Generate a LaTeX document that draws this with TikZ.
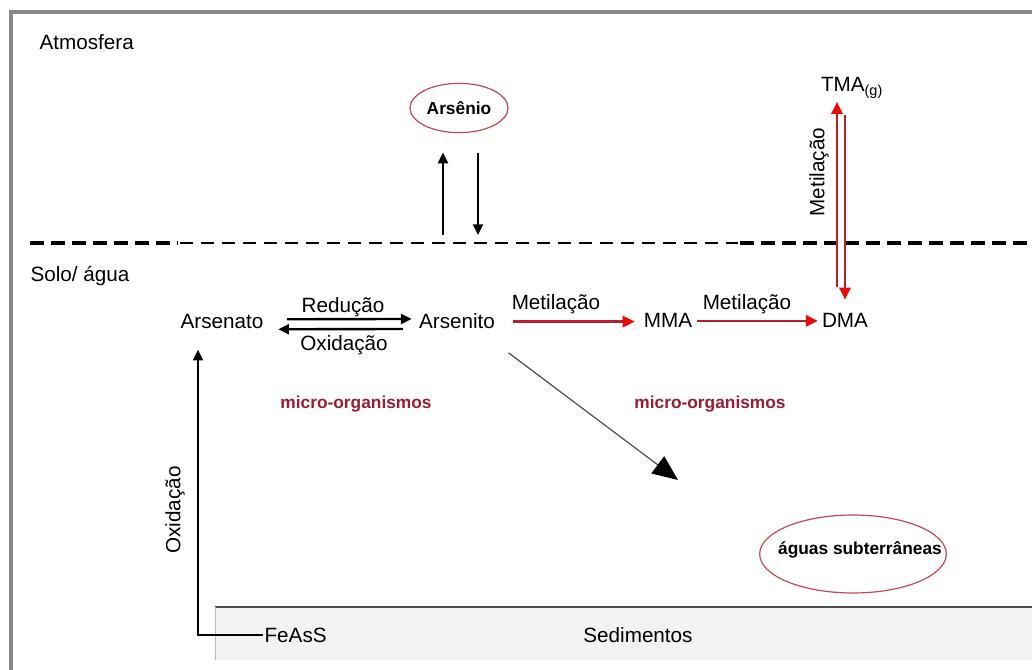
\documentclass[tikz,border=0pt]{standalone}
\usepackage{fontspec}
\setmainfont{Liberation Sans}
\usetikzlibrary{arrows.meta,shapes.geometric,calc}
\definecolor{ringred}{RGB}{190,75,85}
\definecolor{microred}{RGB}{150,30,50}
\definecolor{metline}{RGB}{185,30,45}
\definecolor{methead}{RGB}{235,10,10}
\definecolor{framegray}{RGB}{135,135,135}
\definecolor{sedfill}{RGB}{242,242,242}

\begin{document}
\begin{tikzpicture}[x=0.75pt,y=-0.75pt,
    txt/.style={font=\fontsize{15.5}{18}\selectfont, inner sep=1pt},
    boldtxt/.style={font=\bfseries\fontsize{13}{15}\selectfont, inner sep=1pt},
    microtxt/.style={boldtxt, text=microred},
    ring/.style={draw=ringred, line width=0.9pt, ellipse},
    blackarr/.style={line width=1.4pt, -{Triangle[length=8pt,width=7.5pt]}},
    redarr/.style={draw=metline, line width=1.8pt, -{Triangle[length=9pt,width=8.5pt,color=methead,fill=methead]}}]
        \useasboundingbox (0,0) rectangle (1032,670);
        \draw[framegray, line width=3.5pt] (11,690) -- (11,12) -- (1050,12);
        \fill[sedfill] (215,607) rectangle (1050,660);
        \draw[gray!60!black, line width=0.9pt] (1050,607) -- (215,607);
        \draw[gray!55, line width=0.6pt] (215,607) -- (215,660);
        % boundary atmosphere / soil
        \draw[line width=2.6pt, dash pattern=on 10.5pt off 5.25pt] (30,243) -- (178,243);
        \draw[line width=1pt, dash pattern=on 9.75pt off 6pt] (180,243) -- (738,243);
        \draw[line width=2.6pt, dash pattern=on 10.5pt off 5.25pt] (740,243) -- (1032,243);
        \node[txt, anchor=base west] (atm) at (38,50) {Atmosfera};
        \node[txt, anchor=base west] (solo) at (29,282) {Solo/ água};
        \node[txt, anchor=base] (sed) at (638,642) {Sedimentos};
        % species
        \node[ring, boldtxt, minimum width=73.5pt, minimum height=37pt] (arsenio) at (459,108) {Arsênio};
        \node[txt, anchor=base] (tma) at (852,92) {TMA\textsubscript{(g)}};
        \node[txt, anchor=base] (arsenato) at (222,329) {Arsenato};
        \node[txt, anchor=base] (arsenito) at (457,329) {Arsenito};
        \node[txt, anchor=base] (mma) at (668,328) {MMA};
        \node[txt, anchor=base] (dma) at (845,328) {DMA};
        \node[txt, anchor=base west] (feass) at (263,642) {FeAsS};
        \node[ring, minimum width=140pt, minimum height=58.5pt] (aguasring) at (853,554) {};
        \node[boldtxt] (aguas) at (860,550) {águas subterrâneas};
        % process labels
        \node[txt, anchor=base] (red) at (343,313) {Redução};
        \node[txt, anchor=base] (oxi) at (344,351) {Oxidação};
        \node[txt, anchor=base] (met1) at (556,310) {Metilação};
        \node[txt, anchor=base] (met2) at (747,310) {Metilação};
        \node[txt, rotate=90] (met3) at (819,172) {Metilação};
        \node[txt, rotate=90] (oxi2) at (175,510) {Oxidação};
        \node[microtxt, anchor=base] (micro1) at (356,408) {micro-organismos};
        \node[microtxt, anchor=base] (micro2) at (710,408) {micro-organismos};
        % exchange with the atmosphere
        \coordinate (volup) at (443,235);
        \coordinate (voldown) at (478,235);
        \draw[blackarr, shorten >=14.5pt] (volup) -- (volup |- arsenio.south);
        \draw[blackarr, shorten <=14.5pt] (voldown |- arsenio.south) -- (voldown);
        % redox
        \draw[blackarr, line width=1.8pt, shorten <=16.5pt, shorten >=4.4pt] ([yshift=2pt]arsenato.east) -- ([yshift=2pt]arsenito.west);
        \draw[blackarr, line width=1.8pt, shorten <=11pt, shorten >=10pt] ([yshift=-5.5pt]arsenito.west) -- ([yshift=-5.5pt]arsenato.east);
        % methylation
        \draw[redarr, shorten <=12pt, shorten >=5.7pt] (arsenito.east) -- (arsenito.east -| mma.west);
        \draw[redarr, shorten <=2.7pt, shorten >=2pt] (mma.east) -- (dma.west);
        \draw[redarr, shorten <=18.6pt, shorten >=7.5pt] ($(dma.north)+(-8,0)$) -- ($(tma.base)+(-15,0)$);
        \draw[redarr, shorten <=17pt, shorten >=9.5pt] ($(tma.base)+(-7,0)$) -- (dma.north);
        % to groundwater
        \coordinate (seep) at (678,480);
        \draw[line width=0.9pt, draw=black!70, -{Triangle[length=19pt,width=16pt,color=black,fill=black]}] ($(arsenito.south east)+(12,22)$) -- (seep);
        % oxidation of FeAsS
        \draw[blackarr] (feass.west) -| ($(arsenato.south)+(-24,19)$);
\end{tikzpicture}
\end{document}
